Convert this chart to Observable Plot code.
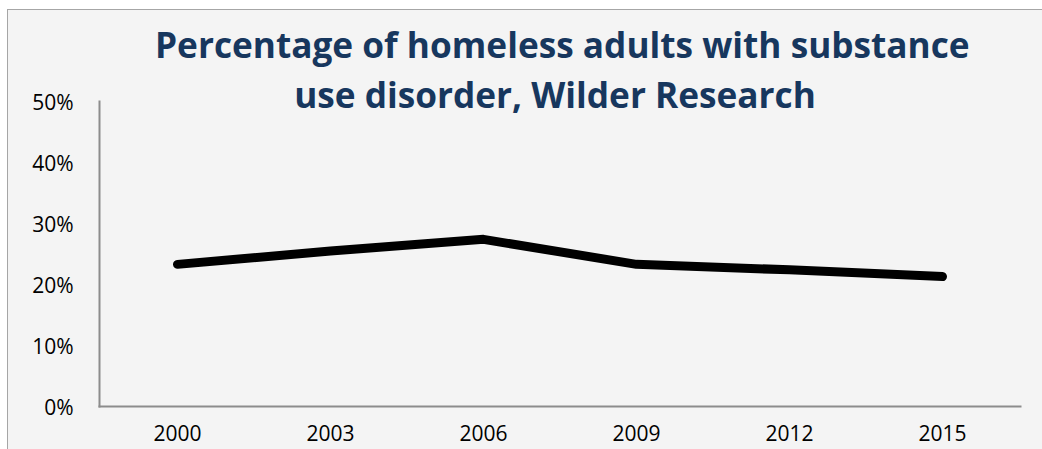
<!DOCTYPE html>
<html>
<head>
<meta charset="utf-8">
<script src="https://cdn.jsdelivr.net/npm/d3@7"></script>
<script src="https://cdn.jsdelivr.net/npm/@observablehq/plot@0.6"></script>
<style>
  html, body { margin: 0; padding: 0; background: #ffffff; }
  #wrap { position: relative; width: 1042px; height: 449px; overflow: hidden; }
  #panel { position: absolute; left: 7px; top: 9px; right: 0; bottom: 0;
           background: #f4f4f4; border-top: 1px solid #a6a6a6; border-left: 1px solid #a6a6a6; }
  #chart { position: absolute; left: 0; top: 0; }
  #title { position: absolute; left: 155px; width: 800px; top: 19px; text-align: center;
           font-family: "Open Sans", sans-serif; font-weight: 700; color: #17375e;
           line-height: 50px; white-space: nowrap; }
</style>
</head>
<body>
<div id="wrap">
  <div id="panel"></div>
  <div id="chart"></div>
  <div id="title"></div>
</div>
<script>
const titleLines = ["Percentage of homeless adults with substance", "use disorder, Wilder Research"];
const years = ["2000", "2003", "2006", "2009", "2012", "2015"];
const values = [23.3, 25.5, 27.4, 23.3, 22.4, 21.3];
const yTicks = [0, 10, 20, 30, 40, 50];

const data = years.map((year, i) => ({year, value: values[i]}));

const chart = Plot.plot({
  width: 1042,
  height: 449,
  marginLeft: 99,
  marginRight: 22,
  marginTop: 101,
  marginBottom: 43,
  style: {background: "transparent", fontFamily: "Open Sans, sans-serif", fontSize: "21px", color: "#000"},
  x: {type: "point", domain: years, padding: 0.5, label: null},
  y: {domain: [0, 50], label: null},
  marks: [
    Plot.axisY({ticks: yTicks, tickSize: 0, tickPadding: 26, tickFormat: d => d + "%", dy: 2, fill: "#000", fontSize: 21}),
    Plot.axisX({tickSize: 0, tickPadding: 20, fill: "#000", fontSize: 21}),
    Plot.frame({anchor: "left", stroke: "#8c8c8c", strokeWidth: 2, strokeOpacity: 1}),
    Plot.frame({anchor: "bottom", stroke: "#8c8c8c", strokeWidth: 2, strokeOpacity: 1}),
    Plot.line(data, {x: "year", y: "value", stroke: "#000", strokeWidth: 9, strokeLinecap: "round", strokeLinejoin: "round"})
  ]
});
document.getElementById("chart").appendChild(chart);

// title, sized to fit the reference width of the first line
const title = document.getElementById("title");
const ctx = document.createElement("canvas").getContext("2d");
ctx.font = '700 100px "Open Sans"';
const w = ctx.measureText(titleLines[0]).width;
const size = Math.min(40, 100 * 815 / w);
title.style.fontSize = size + "px";
title.innerHTML = titleLines.map(t => `<div>${t}</div>`).join("");
</script>
</body>
</html>
